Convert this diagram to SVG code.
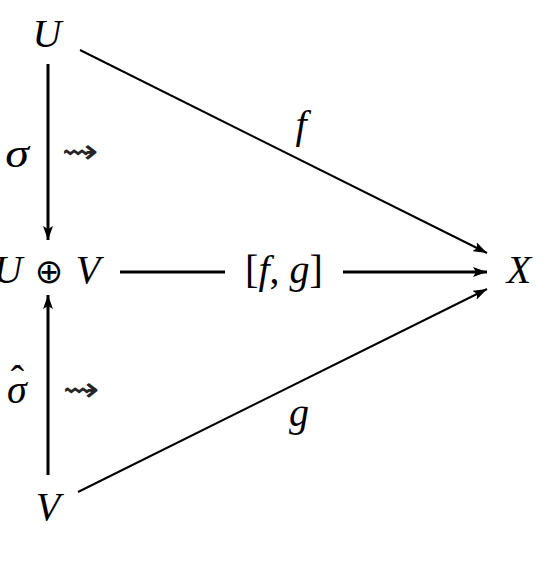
<svg xmlns="http://www.w3.org/2000/svg" width="551" height="570" viewBox="0 0 551 570">
<style>
.m{font-family:"Liberation Serif","Times New Roman",serif;font-style:italic;font-size:40px;fill:#000}
.r{font-family:"Liberation Serif","Times New Roman",serif;font-size:40px;fill:#000}
.s{font-family:"DejaVu Sans",sans-serif;fill:#000}
.e{stroke:#000;fill:none}
</style>
<defs>
<marker id="ah" viewBox="0 0 14 10" refX="14" refY="5" markerWidth="14" markerHeight="10" markerUnits="userSpaceOnUse" orient="auto">
<path d="M0,0 L14,5 L0,10 L3,5 z" fill="#000"/>
</marker>
</defs>
<rect width="551" height="570" fill="#fff"/>
<g id="connectors">
<line class="e" x1="48" y1="64" x2="48" y2="240" stroke-width="3" marker-end="url(#ah)"/>
<line class="e" x1="48" y1="475" x2="48" y2="295" stroke-width="3" marker-end="url(#ah)"/>
<line class="e" x1="120" y1="272" x2="225" y2="272" stroke-width="3"/>
<line class="e" x1="343" y1="272" x2="487" y2="272" stroke-width="3" marker-end="url(#ah)"/>
<line class="e" x1="80" y1="50" x2="487" y2="253" stroke-width="2" marker-end="url(#ah)"/>
<line class="e" x1="78" y1="492" x2="487" y2="289" stroke-width="2" marker-end="url(#ah)"/>
<text class="m" x="301" y="138" text-anchor="middle" font-size="44">f</text>
<text class="m" x="299" y="426" text-anchor="middle" font-size="44">g</text>
<text class="r" x="284" y="283" text-anchor="middle">[<tspan font-style="italic">f</tspan>, <tspan font-style="italic">g</tspan>]</text>
<text class="m" x="17" y="167" text-anchor="middle" font-size="56" transform="translate(17 0) scale(1.2 1) translate(-17 0)">σ</text>
<text class="s" x="80" y="163" text-anchor="middle" font-size="34" transform="translate(80 0) scale(1.3 1) translate(-80 0)" opacity="0.85">⇝</text>
<text class="m" x="7" y="403" font-size="48">σ<tspan class="r" font-style="normal" font-size="40" dx="-16" dy="-10">ˆ</tspan></text>
<text class="s" x="81" y="401" text-anchor="middle" font-size="34" transform="translate(81 0) scale(1.3 1) translate(-81 0)" opacity="0.85">⇝</text>
</g>
<g id="nodeU"><text class="m" x="47" y="47" text-anchor="middle">U</text></g>
<g id="nodeUV">
<text class="m" x="8" y="283" text-anchor="middle">U</text>
<text class="s" x="49" y="283" text-anchor="middle" font-size="34">⊕</text>
<text class="m" x="88" y="283" text-anchor="middle">V</text>
</g>
<g id="nodeX"><text class="m" x="519" y="283" text-anchor="middle">X</text></g>
<g id="nodeV"><text class="m" x="48" y="520" text-anchor="middle">V</text></g>
</svg>
